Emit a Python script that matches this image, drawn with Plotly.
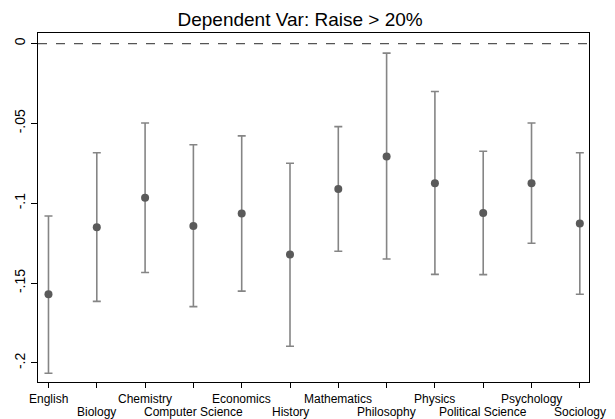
import plotly.graph_objects as go

fields = ["English", "Biology", "Chemistry", "Computer Science", "Economics", "History",
          "Mathematics", "Philosophy", "Physics", "Political Science", "Psychology", "Sociology"]
coef = [-0.157, -0.115, -0.0966, -0.1143, -0.1064, -0.132, -0.0911, -0.0707, -0.0874, -0.1061, -0.0874, -0.1126]
ci_low = [-0.2064, -0.1614, -0.1433, -0.1647, -0.155, -0.1895, -0.130, -0.1349, -0.1445, -0.1447, -0.125, -0.157]
ci_high = [-0.108, -0.0684, -0.0497, -0.0634, -0.0578, -0.0749, -0.052, -0.006, -0.030, -0.0674, -0.0497, -0.0684]
y_ticks = [0, -0.05, -0.1, -0.15, -0.2]
y_ticktext = ["0", "-.05", "-.1", "-.15", "-.2"]
title = "Dependent Var: Raise > 20%"

x_idx = list(range(len(fields)))

fig = go.Figure()
fig.add_trace(go.Scatter(
    x=x_idx, y=coef, mode="markers",
    marker=dict(size=8, color="#5a5a5a"),
    error_y=dict(type="data", symmetric=False,
                 array=[h - c for h, c in zip(ci_high, coef)],
                 arrayminus=[c - l for l, c in zip(ci_low, coef)],
                 color="#858585", thickness=1.6, width=4),
    showlegend=False,
))
fig.add_hline(y=0, line=dict(color="#555555", width=1.3, dash="dash"))

# category labels in two staggered rows, as in the reference
for i, name in enumerate(fields):
    fig.add_annotation(
        x=i, xref="x", y=0, yref="paper", yanchor="top", xanchor="center",
        text=name, showarrow=False, font=dict(size=12, color="black"),
        yshift=-8 if i % 2 == 0 else -21,
    )

fig.update_layout(
    width=615, height=419,
    margin=dict(l=38, r=26, t=33, b=37),
    paper_bgcolor="white", plot_bgcolor="white",
    font=dict(family="Liberation Sans, Arial, sans-serif", color="black"),
    title=dict(text=title, x=0.488, xanchor="center", y=0.955, yanchor="middle",
               font=dict(size=19, color="black")),
)
fig.update_xaxes(
    tickmode="array", tickvals=x_idx, showticklabels=False,
    range=[-0.217, 11.19], showgrid=False, zeroline=False, automargin=False,
    showline=True, linecolor="black", linewidth=1.3, mirror=True,
    ticks="outside", ticklen=5, tickcolor="black",
)
fig.update_yaxes(
    tickmode="array", tickvals=y_ticks, ticktext=y_ticktext,
    range=[-0.2119, 0.0066], showgrid=False, zeroline=False, automargin=False,
    showline=True, linecolor="black", linewidth=1.3, mirror=True,
    ticks="outside", ticklen=6, tickcolor="black", tickfont=dict(size=14),
    tickangle=-90,
)

fig.write_html("out.html")
